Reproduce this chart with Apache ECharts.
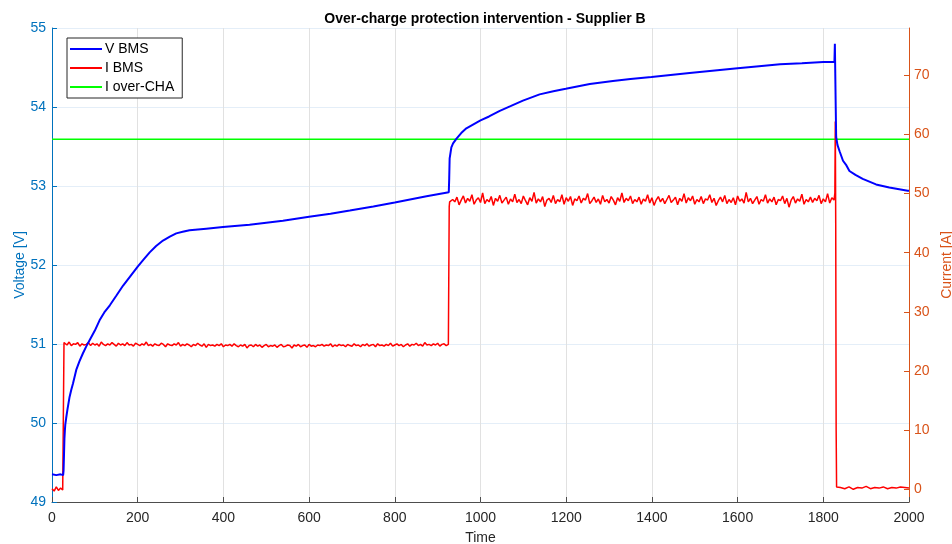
<!DOCTYPE html>
<html>
<head>
<meta charset="utf-8">
<script src="https://cdn.jsdelivr.net/npm/echarts@6/dist/echarts.min.js"></script>
<style>
html,body{margin:0;padding:0;background:#fff;}
#chart{width:952px;height:544px;}
</style>
</head>
<body>
<div id="chart"></div>
<script>
// ---- Data ----
const titleText = 'Over-charge protection intervention - Supplier B';
const seriesNames = ['V BMS', 'I BMS', 'I over-CHA'];
const xTicks = [0, 200, 400, 600, 800, 1000, 1200, 1400, 1600, 1800, 2000];
const leftTicks = [49, 50, 51, 52, 53, 54, 55];
const rightTicks = [0, 10, 20, 30, 40, 50, 60, 70];

// Voltage (V BMS)
const vTime = [0, 10, 20, 26, 27, 28, 29, 30, 31, 33, 36, 41, 45, 49, 57, 64, 72, 80, 88, 100, 111, 122, 135, 150, 166, 183, 200, 214, 228, 243, 259, 275, 290, 305, 321, 360, 399, 461, 539, 600, 650, 695, 750, 800, 874, 926,
  927, 928, 930, 932, 936, 944, 955, 967, 1000, 1020, 1045, 1070, 1099, 1138, 1170, 1199, 1255, 1309, 1350, 1399, 1488, 1600, 1650, 1699, 1750, 1800, 1826,
  1827, 1828, 1829, 1830, 1833, 1838, 1846, 1854, 1861, 1875, 1892, 1923, 1954, 1997, 2000];
const vVal = [49.35, 49.34, 49.35, 49.34, 49.40, 49.60, 49.80, 49.90, 49.98, 50.06, 50.17, 50.33, 50.42, 50.50, 50.68, 50.78, 50.88, 50.97, 51.05, 51.17, 51.30, 51.40, 51.49, 51.61, 51.74, 51.86, 51.98, 52.07, 52.16, 52.24, 52.31, 52.36, 52.40, 52.42, 52.44, 52.46, 52.48, 52.51, 52.56, 52.61, 52.65, 52.69, 52.74, 52.79, 52.87, 52.92,
  53.10, 53.35, 53.42, 53.49, 53.54, 53.60, 53.67, 53.73, 53.83, 53.88, 53.95, 54.01, 54.08, 54.16, 54.20, 54.23, 54.29, 54.33, 54.355, 54.38, 54.43, 54.49, 54.515, 54.54, 54.555, 54.57, 54.57,
  54.80, 54.80, 54.00, 53.62, 53.52, 53.44, 53.32, 53.26, 53.19, 53.14, 53.09, 53.02, 52.98, 52.94, 52.94];

// Current (I BMS): idle before charge, t = 0..25 every 5 s
const iIdleStart = 0, iIdleStep = 5;
const iIdle = [0.1, -0.3, 0.4, -0.2, 0.2, -0.1];
// first step to ~24.4 A, t = 30..925 every 5 s
const iLowStart = 30, iLowStep = 5;
const iLow = [
  24.7,24.4,24.9,24.3,24.6,24.5,24.8,24.2,24.6,24.4,
  24.5,24.8,24.3,24.7,24.4,24.6,24.2,24.9,24.5,24.3,
  24.6,24.4,24.8,24.5,24.2,24.7,24.4,24.6,24.3,24.8,
  24.4,24.5,24.2,24.7,24.5,24.3,24.6,24.4,24.9,24.3,
  24.5,24.2,24.6,24.4,24.3,24.7,24.5,24.1,24.6,24.4,
  24.3,24.6,24.4,24.8,24.2,24.5,24.3,24.6,24.4,24.1,
  24.5,24.3,24.7,24.4,24.2,24.6,24.0,24.5,24.3,24.4,
  24.2,24.5,24.3,24.6,24.1,24.4,24.3,24.5,24.2,24.6,
  24.3,24.1,24.4,24.2,24.5,23.9,24.3,24.4,24.1,24.5,
  24.2,24.4,24.0,24.3,24.5,24.1,24.3,24.2,24.4,24.0,
  24.3,24.5,24.1,24.2,24.4,24.3,23.9,24.4,24.2,24.5,
  24.1,24.3,24.4,24.0,24.5,24.2,24.3,24.1,24.4,24.3,
  24.5,24.2,24.4,24.3,24.6,24.1,24.4,24.2,24.5,24.3,
  24.4,24.1,24.5,24.3,24.2,24.6,24.3,24.4,24.1,24.5,
  24.3,24.6,24.2,24.4,24.5,24.1,24.6,24.3,24.4,24.2,
  24.5,24.3,24.7,24.2,24.4,24.6,24.3,24.5,24.1,24.4,
  24.6,24.2,24.5,24.4,24.7,24.3,24.5,24.2,24.8,24.4,
  24.5,24.3,24.6,24.4,24.7,24.2,24.5,24.6,24.3,24.5];
// second step to ~48.8 A, t = 930..1825 every 5 s
const iHighStart = 930, iHighStep = 5;
const iHigh = [
  48.3,49.0,48.6,49.4,48.1,48.9,49.6,48.4,49.2,48.7,
  49.8,48.2,48.9,49.3,48.5,50.1,48.3,49.0,48.6,49.5,
  48.0,49.2,48.7,49.7,48.4,48.9,49.4,48.2,49.1,48.6,
  49.9,48.5,49.0,48.3,49.6,48.8,48.1,49.3,48.7,50.2,
  48.4,49.1,48.6,49.5,47.8,48.9,49.2,48.5,49.7,48.3,
  49.0,48.6,49.8,48.2,49.3,48.7,49.5,48.0,49.1,48.8,
  49.6,48.4,49.2,48.9,50.0,48.3,48.8,49.4,48.5,49.1,
  48.2,49.7,48.6,49.0,48.4,49.5,48.9,48.1,49.3,48.7,
  50.1,48.5,49.2,48.8,49.6,48.3,49.0,48.6,49.4,48.2,
  49.1,48.7,49.8,48.4,49.3,48.0,48.9,49.5,48.6,49.2,
  48.3,49.0,49.7,48.5,48.9,49.4,48.1,49.2,48.7,50.0,
  48.4,49.3,48.8,49.6,48.2,49.0,48.6,49.5,48.3,49.1,
  48.9,49.8,48.5,49.2,48.0,48.8,49.4,48.6,49.7,48.3,
  49.0,48.5,49.3,48.1,49.6,48.7,49.1,48.4,50.2,48.6,
  49.2,48.3,48.9,49.5,48.2,49.0,48.7,49.8,48.4,49.1,
  48.6,49.4,48.1,49.0,48.8,49.6,48.3,49.2,47.7,48.9,
  49.5,48.4,49.1,48.7,49.9,48.2,49.0,48.6,49.4,48.5,
  49.2,48.8,49.7,48.3,49.1,48.6,50.0,48.4,49.3,48.9];
// after protection trip, t = 1840..2000 every 10 s
const iOffStart = 1840, iOffStep = 10;
const iOff = [0.3, 0.1, 0.4, 0.0, 0.3, 0.2, 0.5, 0.1, 0.3, 0.2, 0.4, 0.1, 0.3, 0.2, 0.4, 0.3, 0.2];
// transition points (time, value)
const iEdgeT1 = [26, 27, 28], iEdgeV1 = [0.0, 0.2, 24.8];
const iEdgeT2 = [926, 927, 928], iEdgeV2 = [24.5, 47.8, 48.6];
const iEdgeT3 = [1827, 1828, 1829, 1830, 1831, 1835], iEdgeV3 = [50.1, 62.2, 45.0, 10.0, 0.4, 0.2];

// Over-charge current threshold
const iLimit = 59.2;

// ---- Build series data ----
function seg(start, step, vals) { return vals.map((v, i) => [start + i * step, v]); }
function pairs(ts, vs) { return ts.map((t, i) => [t, vs[i]]); }
const vData = pairs(vTime, vVal);
const iData = [].concat(
  seg(iIdleStart, iIdleStep, iIdle),
  pairs(iEdgeT1, iEdgeV1),
  seg(iLowStart, iLowStep, iLow),
  pairs(iEdgeT2, iEdgeV2),
  seg(iHighStart, iHighStep, iHigh),
  pairs(iEdgeT3, iEdgeV3),
  seg(iOffStart, iOffStep, iOff)
);
const limData = [[xTicks[0], iLimit], [xTicks[xTicks.length - 1], iLimit]];

const FONT = '"Liberation Sans", Arial, Helvetica, sans-serif';
const BLUEAX = '#0072BD', ORANGEAX = '#D95319';

const chart = echarts.init(document.getElementById('chart'), null, {renderer: 'canvas'});
chart.setOption({
  animation: false,
  backgroundColor: '#fff',
  textStyle: {fontFamily: FONT},
  title: {
    text: titleText, left: 480, top: 7, textAlign: 'center',
    textStyle: {fontFamily: FONT, fontSize: 14, fontWeight: 'bold', color: '#000'}
  },
  legend: {
    data: seriesNames, orient: 'vertical', left: 67, top: 38,
    icon: 'rect', itemWidth: 32, itemHeight: 2, itemGap: 5,
    padding: [4, 8, 4, 3],
    borderColor: '#262626', borderWidth: 1, backgroundColor: '#fff',
    textStyle: {fontFamily: FONT, fontSize: 14, color: '#000', padding: [0, 0, 0, -2]}
  },
  grid: {left: 52, right: 43, top: 28, bottom: 42, containLabel: false, outerBoundsMode: 'none'},
  xAxis: {
    type: 'value', min: 0, max: 2000, interval: 200,
    name: 'Time', nameLocation: 'middle', nameGap: 29, nameMoveOverlap: false,
    nameTextStyle: {fontFamily: FONT, fontSize: 14, color: '#262626'},
    axisLine: {onZero: false, lineStyle: {color: '#4d4d4d', width: 1}},
    axisTick: {inside: true, length: 5, lineStyle: {color: '#4d4d4d'}},
    axisLabel: {fontFamily: FONT, fontSize: 14, color: '#262626', margin: 9, formatter: v => String(v)},
    splitLine: {show: true, lineStyle: {color: '#e1e1e1', width: 1}}
  },
  yAxis: [{
    type: 'value', min: leftTicks[0], max: leftTicks[leftTicks.length - 1], interval: 1, position: 'left',
    name: 'Voltage [V]', nameLocation: 'middle', nameGap: 25, nameRotate: 90, nameMoveOverlap: false,
    nameTextStyle: {fontFamily: FONT, fontSize: 14, color: BLUEAX},
    axisLine: {show: true, lineStyle: {color: BLUEAX, width: 1}},
    axisTick: {show: true, inside: true, length: 5, lineStyle: {color: BLUEAX}},
    axisLabel: {fontFamily: FONT, fontSize: 14, color: BLUEAX, margin: 6},
    splitLine: {show: true, lineStyle: {color: '#e4eef8', width: 1}}
  }, {
    type: 'value', min: -2.15, max: 78, position: 'right',
    name: 'Current [A]', nameLocation: 'middle', nameGap: 27, nameRotate: 90,
    nameTextStyle: {fontFamily: FONT, fontSize: 14, color: ORANGEAX},
    axisLine: {show: true, lineStyle: {color: ORANGEAX, width: 1}},
    axisTick: {show: true, inside: true, length: 5, customValues: rightTicks, lineStyle: {color: ORANGEAX}},
    axisLabel: {fontFamily: FONT, fontSize: 14, color: ORANGEAX, margin: 5, customValues: rightTicks},
    splitLine: {show: false}
  }],
  series: [{
    name: seriesNames[0], type: 'line', yAxisIndex: 0, data: vData,
    symbol: 'none', z: 4, color: '#0000FF',
    lineStyle: {color: '#0000FF', width: 2}
  }, {
    name: seriesNames[1], type: 'line', yAxisIndex: 1, data: iData,
    symbol: 'none', z: 3, color: '#FF0000',
    lineStyle: {color: '#FF0000', width: 1.5}
  }, {
    name: seriesNames[2], type: 'line', yAxisIndex: 1, data: limData,
    symbol: 'none', z: 2, color: '#00FF00',
    lineStyle: {color: '#00FF00', width: 1.6}
  }]
});
</script>
</body>
</html>
